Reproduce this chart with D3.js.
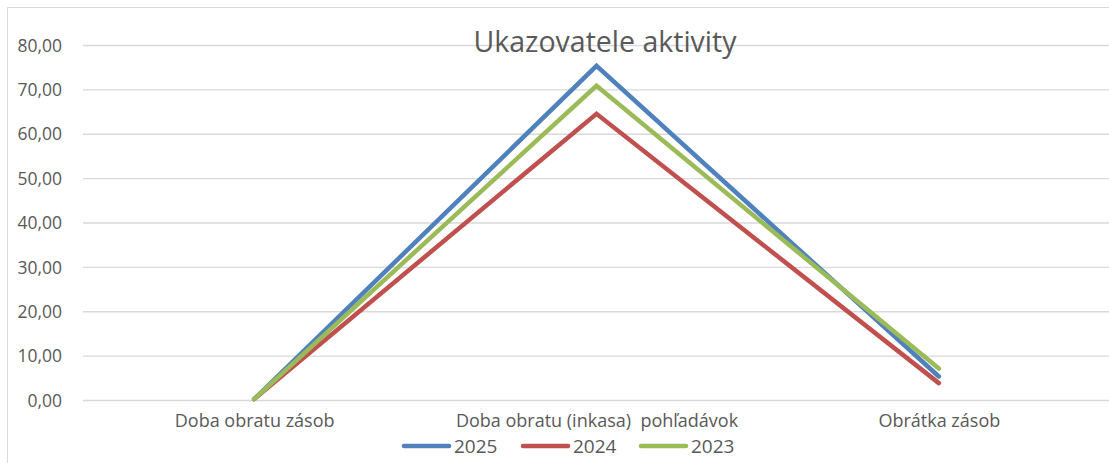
<!DOCTYPE html>
<html>
<head>
<meta charset="utf-8">
<script src="https://cdn.jsdelivr.net/npm/d3@7"></script>
<style>
html,body{margin:0;padding:0;background:#fff;}
svg{display:block;}
text{font-family:"Open Sans","Noto Sans",sans-serif;fill:#595959;}
</style>
</head>
<body>
<svg id="chart" width="1109" height="463"></svg>
<script>
const title = "Ukazovatele aktivity";
const categories = ["Doba obratu zásob", "Doba obratu (inkasa)  pohľadávok", "Obrátka zásob"];
const seriesNames = ["2025", "2024", "2023"];
const seriesColors = ["#4F81BD", "#C0504D", "#9BBB59"];
const values2025 = [0.2, 75.3, 5.3];
const values2024 = [0.2, 64.5, 3.8];
const values2023 = [0.2, 70.8, 7.1];
const yTicks = [0, 10, 20, 30, 40, 50, 60, 70, 80];

const series = [
  {name: seriesNames[0], color: seriesColors[0], values: values2025},
  {name: seriesNames[1], color: seriesColors[1], values: values2024},
  {name: seriesNames[2], color: seriesColors[2], values: values2023}
];

const svg = d3.select("#chart");
const W = 1109, H = 463;
const plot = {left: 83, right: 1110, top: 45, bottom: 400};

// chart border
svg.append("path")
  .attr("d", `M7.5,${H} L7.5,7.5 L${W},7.5`)
  .attr("fill", "none").attr("stroke", "#d9d9d9").attr("stroke-width", 1);

const x = d3.scalePoint().domain(categories).range([plot.left, plot.right]).padding(0.5);
const y = d3.scaleLinear().domain([0, 80]).range([plot.bottom, plot.top]);

const loc = d3.formatLocale({decimal: ",", thousands: " ", grouping: [3], currency: ["", ""]});
const fmt = loc.format(".2f");

// gridlines + y labels via axis
const yAxis = d3.axisLeft(y).tickValues(yTicks).tickFormat(fmt)
  .tickSize(-(plot.right - plot.left)).tickPadding(21);
const gy = svg.append("g").attr("transform", `translate(${plot.left},0)`).call(yAxis);
gy.select(".domain").remove();
gy.selectAll(".tick line").attr("stroke", "#d9d9d9").attr("stroke-width", 1.3);
gy.selectAll(".tick text").attr("fill", "#595959").style("font-size", "17.5px")
  .attr("font-family", null).attr("dy", "0.35em");

// x labels via axis
const xAxis = d3.axisBottom(x).tickSize(0).tickPadding(14);
const gx = svg.append("g").attr("transform", `translate(0,${plot.bottom})`).call(xAxis);
gx.select(".domain").remove();
gx.selectAll(".tick text").attr("fill", "#595959").style("font-size", "18px")
  .attr("font-family", null).style("white-space", "pre").attr("xml:space", "preserve");

// title
svg.append("text").attr("x", 605).attr("y", 52).attr("text-anchor", "middle")
  .style("font-size", "28.5px").text(title);

// lines
const line = d3.line().x((d, i) => x(categories[i])).y(d => y(d));
svg.append("g").selectAll("path").data(series).join("path")
  .attr("d", d => line(d.values))
  .attr("fill", "none").attr("stroke", d => d.color)
  .attr("stroke-width", 4.5).attr("stroke-linecap", "round").attr("stroke-linejoin", "miter");

// legend
const legendX = [402, 521, 639];
const lg = svg.append("g").selectAll("g").data(series).join("g")
  .attr("transform", (d, i) => `translate(${legendX[i]},446)`);
lg.append("line").attr("x1", 2).attr("x2", 47).attr("y1", 0).attr("y2", 0)
  .attr("stroke", d => d.color).attr("stroke-width", 4.5).attr("stroke-linecap", "round");
lg.append("text").attr("x", 52).attr("y", 0).attr("dy", "0.35em")
  .style("font-size", "19px").text(d => d.name);
</script>
</body>
</html>
